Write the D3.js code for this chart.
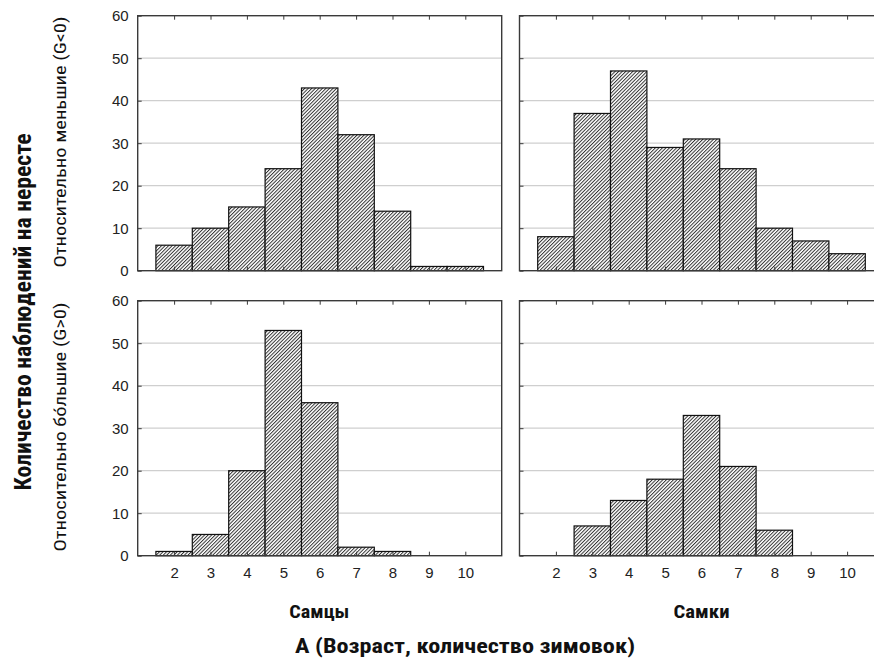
<!DOCTYPE html>
<html>
<head>
<meta charset="utf-8">
<script src="https://cdn.jsdelivr.net/npm/d3@7"></script>
<style>
  html, body { margin: 0; padding: 0; background: #fff; }
  svg { display: block; }
  .lbl { font-family: "Liberation Sans Narrow", "Roboto Condensed", "Arial Narrow", "Liberation Sans", Arial, sans-serif; fill: #111; }
</style>
</head>
<body>
<script>
// ---- data ----
const ages = [2, 3, 4, 5, 6, 7, 8, 9, 10];
const malesSmaller   = [6, 10, 15, 24, 43, 32, 14, 1, 1];
const femalesSmaller = [8, 37, 47, 29, 31, 24, 10, 7, 4];
const malesLarger    = [1, 5, 20, 53, 36, 2, 1, 0, 0];
const femalesLarger  = [0, 7, 13, 18, 33, 21, 6, 0, 0];
const yTicks = [0, 10, 20, 30, 40, 50, 60];
const gridTicks = [10, 20, 30, 40, 50];
const rowLabels = ["Относительно меньшие (G<0)", "Относительно бо\u0301льшие (G>0)"];
const colLabels = ["Самцы", "Самки"];
const yTitle = "Количество наблюдений на нересте";
const xTitle = "А (Возраст, количество зимовок)";

const W = 874, H = 658;
const svg = d3.select("body").append("svg").attr("width", W).attr("height", H);

const defs = svg.append("defs");
const pat = defs.append("pattern")
  .attr("id", "hatch").attr("patternUnits", "userSpaceOnUse")
  .attr("width", 2.5).attr("height", 2.5)
  .attr("patternTransform", "rotate(45)");
pat.append("rect").attr("width", 2.5).attr("height", 2.5).attr("fill", "#fff");
pat.append("line").attr("x1", 0.5).attr("y1", 0).attr("x2", 0.5).attr("y2", 2.5)
  .attr("stroke", "#2a2a2a").attr("stroke-width", 0.95);

const colX = [[137.7, 501.7], [519.5, 883.5]];
const rowY = [[270.7, 15.7], [555.7, 300.7]];
const panels = [
  { r: 0, c: 0, data: malesSmaller },
  { r: 0, c: 1, data: femalesSmaller },
  { r: 1, c: 0, data: malesLarger },
  { r: 1, c: 1, data: femalesLarger }
];

const frameColor = "#3a3a3a";
const tickFont = "'Liberation Sans', Arial, sans-serif";

function styleAxis(sel) {
  sel.attr("font-size", 15).attr("font-family", tickFont);
  sel.selectAll(".tick text").attr("fill", "#222");
  sel.select(".domain").remove();
  sel.selectAll(".tick line").attr("stroke", frameColor);
}

panels.forEach(p => {
  const x = d3.scaleLinear().domain([1, 11]).range(colX[p.c]);
  const y = d3.scaleLinear().domain([0, 60]).range(rowY[p.r]);
  const g = svg.append("g");

  // gridlines
  g.selectAll("line.grid").data(gridTicks).enter().append("line")
    .attr("x1", x(1)).attr("x2", x(11))
    .attr("y1", d => y(d)).attr("y2", d => y(d))
    .attr("stroke", "#cfcfcf").attr("stroke-width", 1.2);

  // bars
  const rows = ages.map((a, i) => ({ a, v: p.data[i] })).filter(d => d.v > 0);
  g.selectAll("rect.bar").data(rows).enter().append("rect")
    .attr("x", d => x(d.a - 0.5))
    .attr("width", d => x(d.a + 0.5) - x(d.a - 0.5))
    .attr("y", d => y(d.v))
    .attr("height", d => y(0) - y(d.v))
    .attr("fill", "url(#hatch)")
    .attr("stroke", "#111").attr("stroke-width", 1.2);

  // axes (inward ticks)
  const yAx = d3.axisLeft(y).tickValues(yTicks).tickSize(-4).tickPadding(9);
  if (p.c === 1) yAx.tickFormat("");
  g.append("g").attr("transform", `translate(${x(1)},0)`).call(yAx).call(styleAxis);

  const xTop = d3.axisTop(x).tickValues(ages).tickSize(-4).tickFormat("");
  g.append("g").attr("transform", `translate(0,${y(60)})`).call(xTop).call(styleAxis);

  const xBot = d3.axisBottom(x).tickValues(ages).tickSize(-4).tickPadding(12);
  if (p.r === 0) xBot.tickFormat("");
  g.append("g").attr("transform", `translate(0,${y(0)})`).call(xBot).call(styleAxis);

  // frame
  g.append("rect")
    .attr("x", x(1)).attr("y", y(60))
    .attr("width", x(11) - x(1)).attr("height", y(0) - y(60))
    .attr("fill", "none").attr("stroke", frameColor).attr("stroke-width", 1.4);
});

// labels
svg.append("text").attr("class", "lbl")
  .attr("transform", "translate(31,312) rotate(-90)")
  .attr("text-anchor", "middle").attr("font-size", 23).attr("font-weight", "bold")
  .attr("textLength", 357).attr("lengthAdjust", "spacingAndGlyphs")
  .text(yTitle);

const rowCenters = [142, 427];
const rowLens = [251, 249];
rowLabels.forEach((t, i) => {
  svg.append("text").attr("class", "lbl")
    .attr("transform", `translate(66,${rowCenters[i]}) rotate(-90)`)
    .attr("text-anchor", "middle").attr("font-size", 17)
    .attr("textLength", rowLens[i]).attr("lengthAdjust", "spacingAndGlyphs")
    .text(t);
});

const colCenters = [319.3, 701.5];
const colLens = [60, 56];
colLabels.forEach((t, i) => {
  svg.append("text").attr("class", "lbl")
    .attr("x", colCenters[i]).attr("y", 618)
    .attr("text-anchor", "middle").attr("font-size", 18).attr("font-weight", "bold")
    .attr("textLength", colLens[i]).attr("lengthAdjust", "spacingAndGlyphs")
    .text(t);
});

svg.append("text").attr("class", "lbl")
  .attr("x", 465).attr("y", 653)
  .attr("text-anchor", "middle").attr("font-size", 20).attr("font-weight", "bold")
  .attr("textLength", 340).attr("lengthAdjust", "spacingAndGlyphs")
  .text(xTitle);
</script>
</body>
</html>
